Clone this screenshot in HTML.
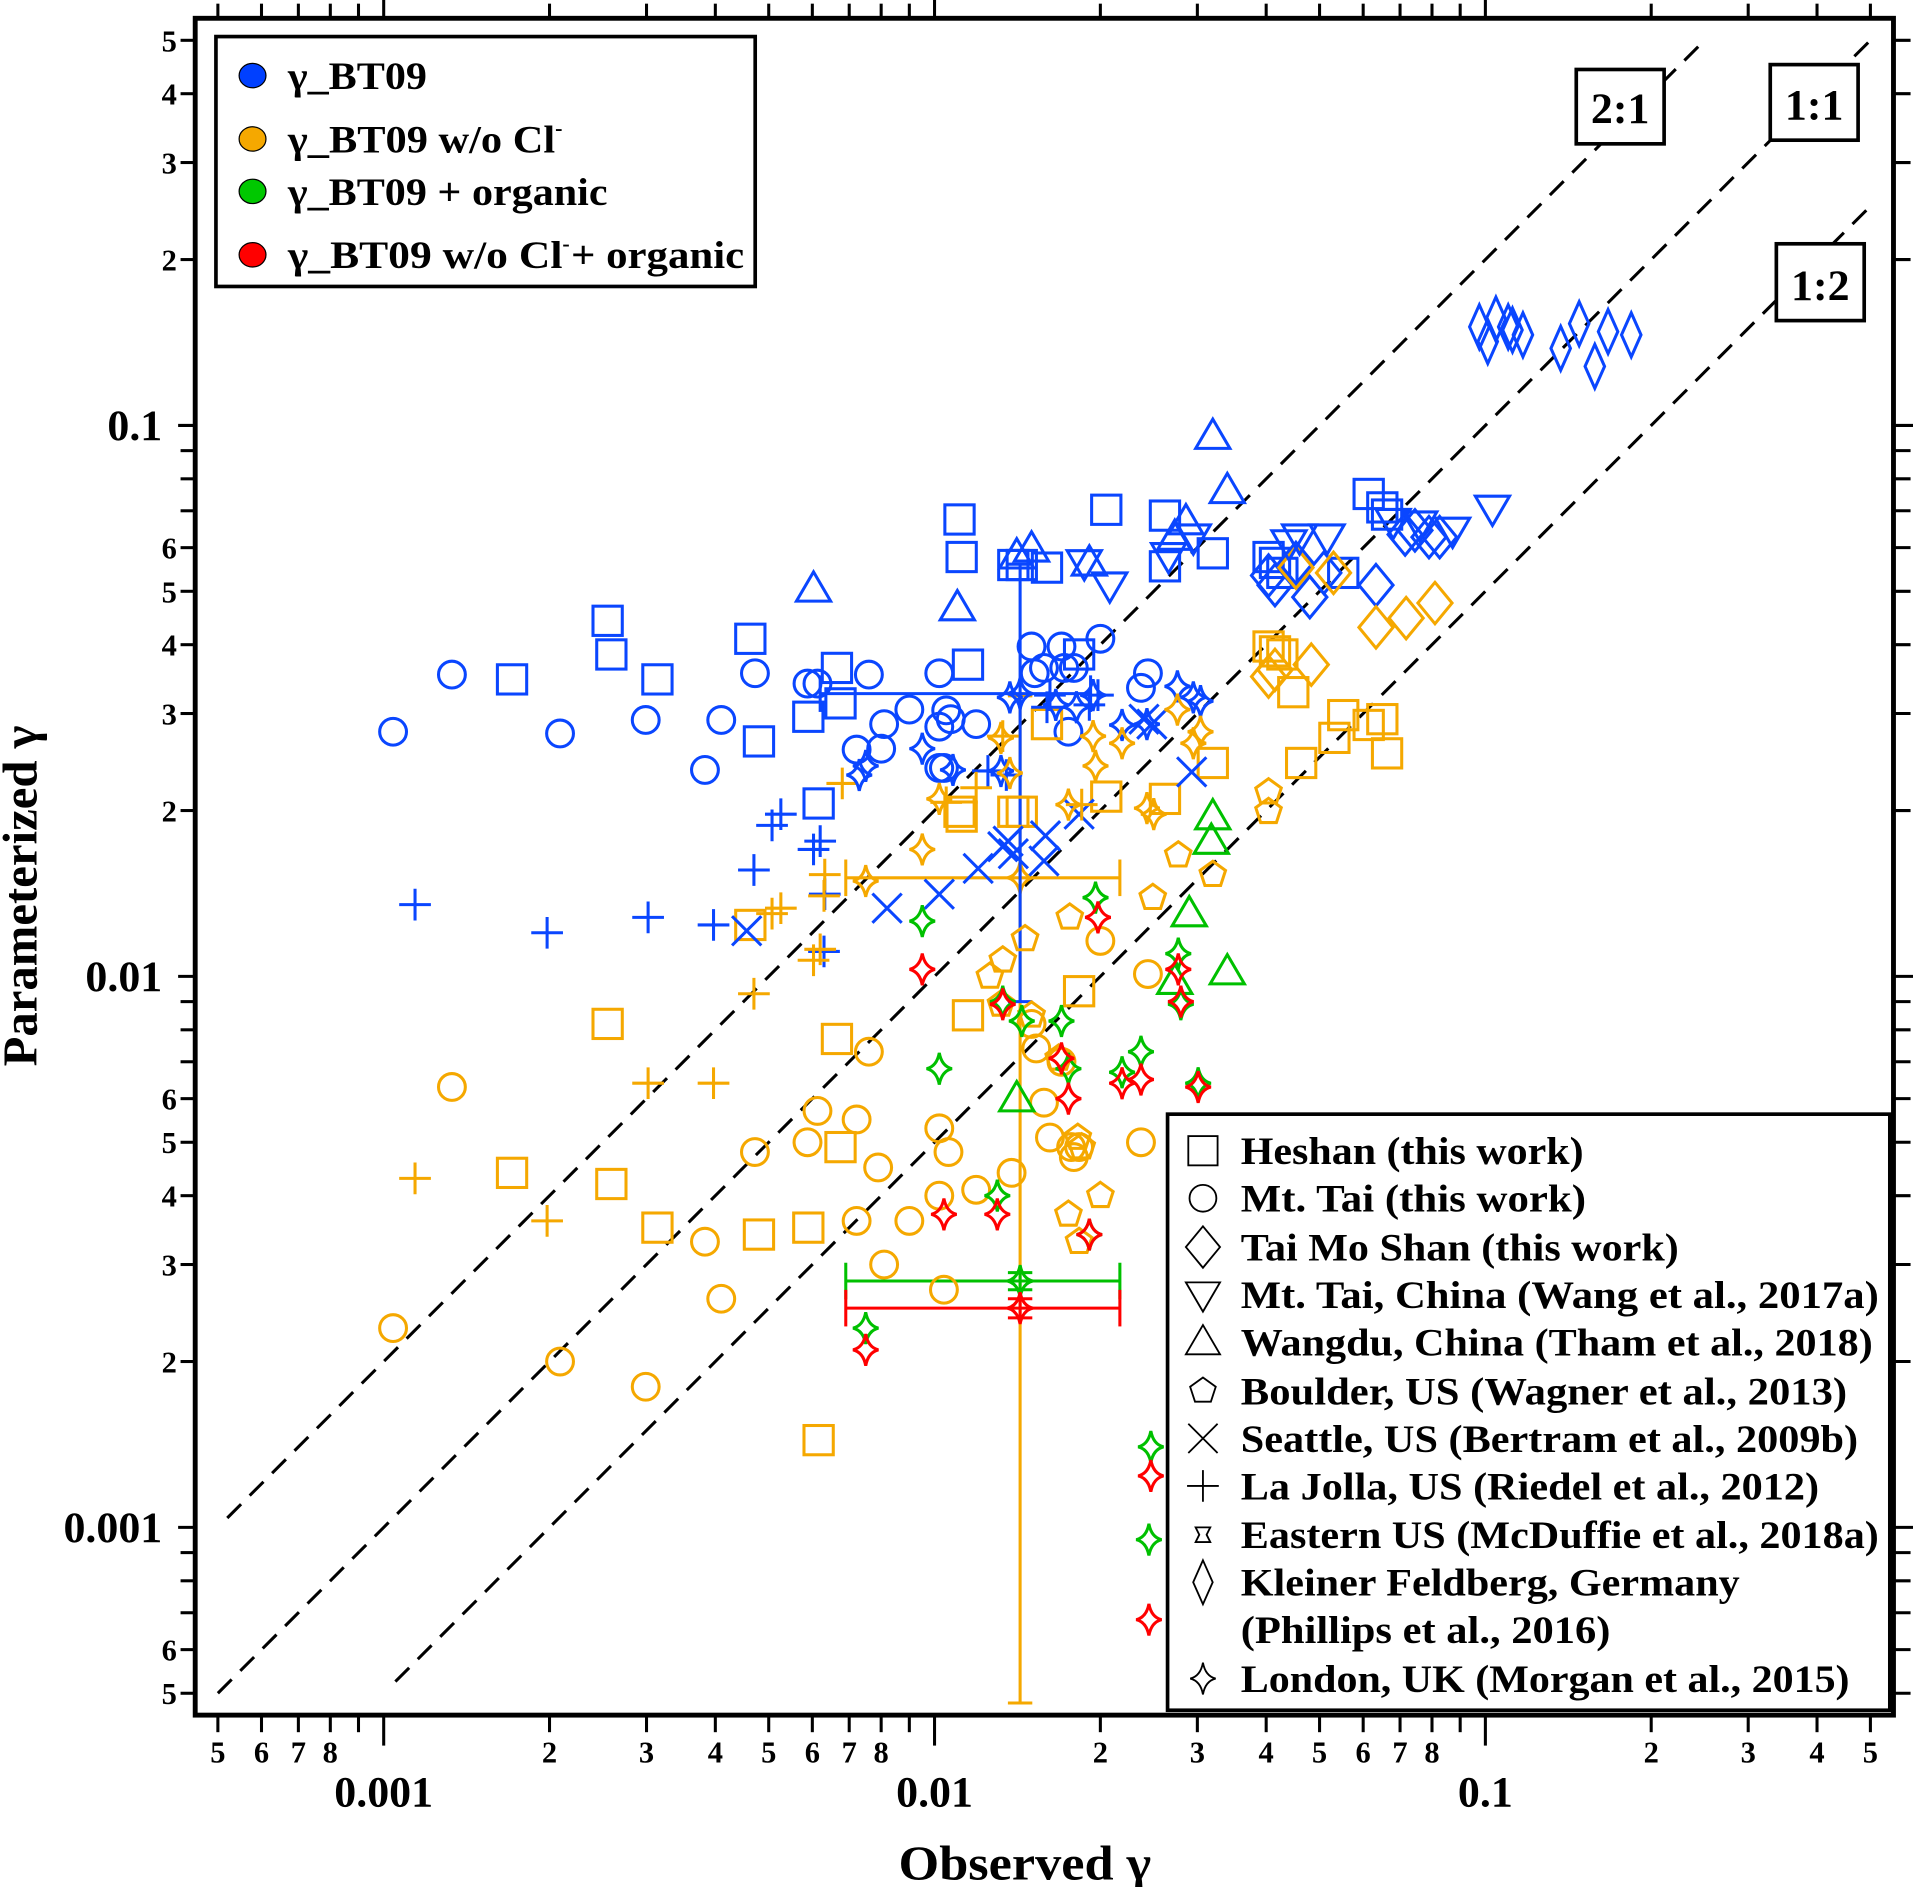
<!DOCTYPE html>
<html><head><meta charset="utf-8">
<style>
html,body{margin:0;padding:0;background:#fff;}
svg{display:block;}
text{font-family:"Liberation Serif",serif;font-weight:bold;fill:#000;}
</style></head>
<body>
<svg id="chart" width="1913" height="1887" viewBox="0 0 1568 1548" preserveAspectRatio="none" xmlns="http://www.w3.org/2000/svg">
<g id="grid-lines"></g>
<g id="marks"></g>
<g id="axes"></g>
<g id="ratio-labels">
  <rect x="1292" y="57" width="72" height="61" fill="#fff" stroke="#000" stroke-width="3"/>
  <text x="1328" y="101" font-size="36" text-anchor="middle">2:1</text>
  <rect x="1451" y="53" width="72" height="62" fill="#fff" stroke="#000" stroke-width="3"/>
  <text x="1487" y="98" font-size="36" text-anchor="middle">1:1</text>
  <rect x="1456" y="200" width="72" height="63" fill="#fff" stroke="#000" stroke-width="3"/>
  <text x="1492" y="246" font-size="36" text-anchor="middle">1:2</text>
</g>
<g id="legend-colors">
  <rect x="177" y="30" width="442" height="205" fill="#fff" stroke="#000" stroke-width="3"/>
  <ellipse cx="207" cy="62" rx="11" ry="10" fill="#0040ff" stroke="#000" stroke-width="1"/>
  <text x="236" y="73" font-size="32" textLength="114" lengthAdjust="spacingAndGlyphs">γ_BT09</text>
  <ellipse cx="207" cy="114" rx="11" ry="10" fill="#f5a800" stroke="#000" stroke-width="1"/>
  <text x="236" y="125" font-size="32"><tspan textLength="219" lengthAdjust="spacingAndGlyphs">γ_BT09 w/o Cl</tspan><tspan dy="-14" font-size="18">-</tspan></text>
  <ellipse cx="207" cy="157" rx="11" ry="10" fill="#00c800" stroke="#000" stroke-width="1"/>
  <text x="236" y="168" font-size="32" textLength="262" lengthAdjust="spacingAndGlyphs">γ_BT09 + organic</text>
  <ellipse cx="207" cy="209" rx="11" ry="10" fill="#ff0000" stroke="#000" stroke-width="1"/>
  <text x="236" y="220" font-size="32"><tspan textLength="225" lengthAdjust="spacingAndGlyphs">γ_BT09  w/o Cl</tspan><tspan dy="-14" font-size="18">-</tspan><tspan dy="14" x="468" textLength="142" lengthAdjust="spacingAndGlyphs">+ organic</tspan></text>
</g>
<g id="legend-sites">
  <rect x="957" y="914" width="592" height="489" fill="#fff" stroke="#000" stroke-width="3"/>
</g>
<text x="840" y="1542" font-size="40" text-anchor="middle" textLength="207" lengthAdjust="spacingAndGlyphs">Observed  γ</text>
<text transform="translate(30,735) rotate(-90)" font-size="40" text-anchor="middle">Parameterized  γ</text>
</svg>
<script>
// ---- data (observed γ, parameterized γ) ----
const circBlue=[[0.00104,0.0278],[0.00133,0.0353],[0.00209,0.0276],[0.00299,0.0292],[0.00383,0.0237],[0.0041,0.0292],[0.00472,0.0355],[0.00588,0.034],[0.00613,0.034],[0.00722,0.0258],[0.0076,0.0353],[0.008,0.0259],[0.0081,0.0287],[0.009,0.0305],[0.0102,0.0355],[0.0102,0.0284],[0.0105,0.0304],[0.0107,0.0293],[0.0119,0.0287],[0.015,0.0397],[0.0152,0.0355],[0.0158,0.0363],[0.017,0.0397],[0.0172,0.0363],[0.0175,0.0278],[0.0179,0.0363],[0.02,0.041],[0.0237,0.0334],[0.0244,0.0355],[0.0102,0.0239],[0.0104,0.0239]];
const circOrange=[[0.00104,0.0023],[0.00133,0.0063],[0.00209,0.002],[0.00299,0.0018],[0.00383,0.0033],[0.0041,0.0026],[0.00472,0.0048],[0.00588,0.005],[0.00613,0.0057],[0.00722,0.0055],[0.00722,0.0036],[0.0076,0.0073],[0.0079,0.0045],[0.0081,0.003],[0.009,0.0036],[0.0102,0.0053],[0.0106,0.0048],[0.0104,0.0027],[0.0102,0.004],[0.0119,0.0041],[0.0138,0.0044],[0.015,0.0082],[0.0153,0.0074],[0.0158,0.0059],[0.0162,0.0051],[0.017,0.007],[0.0177,0.0049],[0.0179,0.0047],[0.02,0.0116],[0.0237,0.005],[0.0244,0.0101],[0.0183,0.0049]];
const sqBlue=[[0.00171,0.0346],[0.00255,0.0442],[0.00259,0.0384],[0.00314,0.0346],[0.00463,0.041],[0.0048,0.0267],[0.0059,0.0296],[0.00616,0.0206],[0.00665,0.0363],[0.00675,0.0313],[0.0111,0.0675],[0.0112,0.0577],[0.0115,0.0368],[0.0139,0.0558],[0.0144,0.0558],[0.016,0.0552],[0.0183,0.0384],[0.0205,0.0703],[0.0262,0.0686],[0.0262,0.0555],[0.032,0.0586],[0.0614,0.0751],[0.065,0.071],[0.0663,0.0689],[0.0552,0.054],[0.0404,0.0577],[0.0415,0.0563],[0.0428,0.054]];
const sqOrange=[[0.00171,0.0044],[0.00255,0.0082],[0.00259,0.0042],[0.00314,0.0035],[0.00463,0.0124],[0.0048,0.0034],[0.0059,0.0035],[0.00616,0.00144],[0.00665,0.0077],[0.00675,0.0049],[0.0111,0.0199],[0.0112,0.0195],[0.0115,0.0085],[0.0139,0.0199],[0.0144,0.0199],[0.016,0.0287],[0.0183,0.0094],[0.0205,0.0212],[0.0262,0.021],[0.032,0.0244],[0.0614,0.0286],[0.065,0.0293],[0.0663,0.0254],[0.0552,0.0298],[0.0404,0.0397],[0.0415,0.0389],[0.0428,0.0384],[0.0448,0.0328],[0.0463,0.0244],[0.0532,0.0271]];
const diaBlue=[[0.0633,0.0513],[0.0453,0.0563],[0.0509,0.054],[0.0404,0.0534],[0.0415,0.0513],[0.048,0.0488],[0.0715,0.0634],[0.079,0.0627],[0.0826,0.0627],[0.0745,0.0645]];
const diaOrange=[[0.0633,0.043],[0.0718,0.0447],[0.081,0.0476],[0.0483,0.0368],[0.0453,0.0552],[0.0404,0.035],[0.053,0.054],[0.0415,0.036]];
const kfBlue=[[0.0975,0.151],[0.1045,0.156],[0.11,0.151],[0.117,0.146],[0.137,0.138],[0.148,0.153],[0.158,0.128],[0.167,0.148],[0.184,0.146],[0.101,0.142],[0.112,0.149]];
const tdBlue=[[0.103,0.0707],[0.0872,0.0645],[0.076,0.0662],[0.068,0.0669],[0.0516,0.0627],[0.046,0.0627],[0.044,0.0612],[0.0208,0.0513],[0.0187,0.0563],[0.0295,0.0627],[0.0266,0.058]];
const tuBlue=[[0.00603,0.0505],[0.011,0.0467],[0.0141,0.058],[0.015,0.0597],[0.0191,0.0563],[0.032,0.0956],[0.034,0.0762],[0.0273,0.0627],[0.0286,0.0669]];
const tuGreen=[[0.032,0.0195],[0.0318,0.0176],[0.029,0.013],[0.034,0.0102],[0.0273,0.0098],[0.0141,0.006]];
const xBlue=[[0.00456,0.0121],[0.0082,0.0133],[0.0102,0.0141],[0.012,0.0157],[0.0133,0.0172],[0.0136,0.0176],[0.0158,0.0162],[0.0159,0.018],[0.0183,0.0197],[0.024,0.0293],[0.0293,0.0235],[0.0248,0.0287],[0.0139,0.0167]];
const plusBlue=[[0.00114,0.0135],[0.00198,0.012],[0.00302,0.0128],[0.00397,0.0124],[0.0047,0.0156],[0.00507,0.0188],[0.00526,0.0197],[0.00603,0.017],[0.0062,0.0176],[0.00632,0.0141],[0.0063,0.0111],[0.0125,0.0236],[0.0135,0.0232],[0.016,0.0308],[0.0162,0.0324],[0.0191,0.0311],[0.0198,0.0324]];
const plusOrange=[[0.00114,0.0043],[0.00198,0.0036],[0.00302,0.0064],[0.00397,0.0064],[0.0047,0.0093],[0.00507,0.013],[0.00526,0.0133],[0.00603,0.0107],[0.0062,0.0112],[0.00632,0.0153],[0.0063,0.014],[0.0068,0.0224],[0.0119,0.022],[0.0105,0.0207],[0.0133,0.0273],[0.0185,0.0205]];
const starBlue=[[0.0075,0.0241],[0.0095,0.0259],[0.0108,0.0237],[0.0132,0.0236],[0.0137,0.0321],[0.0166,0.0311],[0.0181,0.0308],[0.0219,0.0286],[0.0243,0.0287],[0.0276,0.0336],[0.0295,0.0321],[0.0304,0.0316],[0.0194,0.0324],[0.0073,0.0232]];
const starOrange=[[0.0075,0.0149],[0.0095,0.017],[0.0102,0.021],[0.0132,0.0271],[0.0137,0.0234],[0.0175,0.0205],[0.0196,0.0241],[0.0219,0.0265],[0.0243,0.0202],[0.0276,0.0305],[0.0295,0.0265],[0.0304,0.0278],[0.0194,0.0273],[0.025,0.0197]];
const starGreen=[[0.0095,0.0126],[0.0102,0.0068],[0.013,0.004],[0.0133,0.009],[0.0144,0.0083],[0.017,0.0083],[0.0175,0.0068],[0.0196,0.0139],[0.0219,0.0067],[0.0237,0.0073],[0.0277,0.011],[0.0301,0.0064],[0.0191,0.0034],[0.0075,0.0023],[0.0247,0.0014],[0.0245,0.00095],[0.028,0.0089]];
const starRed=[[0.0095,0.0103],[0.0104,0.0037],[0.013,0.0037],[0.0133,0.0089],[0.0175,0.006],[0.0198,0.0128],[0.0219,0.0064],[0.0237,0.0065],[0.0277,0.0103],[0.0301,0.0063],[0.0191,0.0034],[0.0075,0.0021],[0.0247,0.00124],[0.0245,0.00068],[0.028,0.009],[0.017,0.0071]];
const pentOrange=[[0.0126,0.01],[0.0132,0.0089],[0.0146,0.0117],[0.0133,0.0107],[0.015,0.0085],[0.0168,0.0071],[0.0175,0.0037],[0.0183,0.0033],[0.02,0.004],[0.0249,0.0139],[0.0277,0.0166],[0.032,0.0153],[0.0404,0.0216],[0.0404,0.0199],[0.0176,0.0128],[0.0185,0.0049],[0.0182,0.0051]];
// error bars: [x, y, xlo, xhi, ylo, yhi]
const errBlue=[0.0143,0.0326,0.0062,0.0192,0.009,0.056];
const errOrange=[0.0143,0.0151,0.0069,0.0217,0.00048,0.0323];
const errGreen=[0.0143,0.0028,0.0069,0.0217,0.0027,0.0029];
const errRed=[0.0143,0.0025,0.0069,0.0217,0.0024,0.0026];
const xTickMinor=[0.0005,0.0006,0.0007,0.0008,0.0009,0.002,0.003,0.004,0.005,0.006,0.007,0.008,0.009,0.02,0.03,0.04,0.05,0.06,0.07,0.08,0.09,0.2,0.3,0.4,0.5];
const xMinorLabels=["5","6","7","8","","2","3","4","5","6","7","8","","2","3","4","5","6","7","8","","2","3","4","5"];
const majorTicks=[0.001,0.01,0.1];
const majorLabels=["0.001","0.01","0.1"];
const yTickMinor=[0.0005,0.0006,0.0007,0.0008,0.0009,0.002,0.003,0.004,0.005,0.006,0.007,0.008,0.009,0.02,0.03,0.04,0.05,0.06,0.07,0.08,0.09,0.2,0.3,0.4,0.5];
const yMinorLabels=["5","6","","","","2","3","4","5","6","","","","2","3","4","5","6","","","","2","3","4","5"];
const ratios=[2,1,0.5];

// ---- scales ----
const X=v=>766+451.5*Math.log10(v/0.01);
const Y=v=>801-452*Math.log10(v/0.01);
const NS="http://www.w3.org/2000/svg";
function mk(tag,attrs,parent){const e=document.createElementNS(NS,tag);for(const k in attrs)e.setAttribute(k,attrs[k]);parent.appendChild(e);return e;}
const BLUE="#0a46ff",ORANGE="#f5a800",GREEN="#00c000",RED="#ff0000";

const gl=document.getElementById('grid-lines');
const ratioRanges=[[0.00052,0.25],[0.0005,0.5],[0.00105,0.5]];
ratios.forEach((r,i)=>{
  const [a,b]=ratioRanges[i];
  const l=mk('line',{x1:X(a),y1:Y(a*r),x2:X(b),y2:Y(b*r),stroke:'#000','stroke-width':2.5,'stroke-dasharray':'16,10'},gl);
  
  
});

function shape(type,cx,cy,color,parent,sw){
  sw=sw||2.5;
  const base={fill:'none',stroke:color,'stroke-width':sw};
  let e;
  if(type==='circle') e=mk('circle',Object.assign({cx,cy,r:11},base),parent);
  else if(type==='square') e=mk('rect',Object.assign({x:cx-12,y:cy-12,width:24,height:24},base),parent);
  else if(type==='diamond') e=mk('polygon',Object.assign({points:`${cx},${cy-17} ${cx+14},${cy} ${cx},${cy+17} ${cx-14},${cy}`},base),parent);
  else if(type==='kf') e=mk('polygon',Object.assign({points:`${cx},${cy-18} ${cx+8},${cy} ${cx},${cy+18} ${cx-8},${cy}`},base),parent);
  else if(type==='tdown') e=mk('polygon',Object.assign({points:`${cx-14},${cy-10} ${cx+14},${cy-10} ${cx},${cy+14}`},base),parent);
  else if(type==='tup') e=mk('polygon',Object.assign({points:`${cx-14},${cy+10} ${cx+14},${cy+10} ${cx},${cy-14}`},base),parent);
  else if(type==='x') e=mk('path',Object.assign({d:`M${cx-12},${cy-12}L${cx+12},${cy+12}M${cx-12},${cy+12}L${cx+12},${cy-12}`},base),parent);
  else if(type==='plus') e=mk('path',Object.assign({d:`M${cx-13},${cy}L${cx+13},${cy}M${cx},${cy-13}L${cx},${cy+13}`},base),parent);
  else if(type==='star'){
    const o=13,w=o*0.8;
    e=mk('path',Object.assign({d:`M${cx},${cy-o}Q${cx+2},${cy-2} ${cx+w},${cy}Q${cx+2},${cy+2} ${cx},${cy+o}Q${cx-2},${cy+2} ${cx-w},${cy}Q${cx-2},${cy-2} ${cx},${cy-o}Z`},base),parent);
  }
  else if(type==='pent'){
    let p=[];for(let k=0;k<5;k++){const a=-Math.PI/2+k*2*Math.PI/5;p.push((cx+11*Math.cos(a)).toFixed(1)+','+(cy+11*Math.sin(a)).toFixed(1));}
    e=mk('polygon',Object.assign({points:p.join(' ')},base),parent);
  }
  else if(type==='eus'){
    e=mk('path',Object.assign({d:`M${cx-6},${cy-6}L${cx+6},${cy-6}L${cx+3},${cy}L${cx+6},${cy+6}L${cx-6},${cy+6}L${cx-3},${cy}Z`},base),parent);
  }
  return e;
}
const marks=document.getElementById('marks');
function errbar(arr,color,name){
  const g=mk('g',{},marks);
  
  
  const [x,y,xl,xh,yl,yh]=arr;
  mk('line',{x1:X(xl),y1:Y(y),x2:X(xh),y2:Y(y),stroke:color,'stroke-width':2.5},g);
  mk('line',{x1:X(xl),y1:Y(y)-15,x2:X(xl),y2:Y(y)+15,stroke:color,'stroke-width':2.5},g);
  mk('line',{x1:X(xh),y1:Y(y)-15,x2:X(xh),y2:Y(y)+15,stroke:color,'stroke-width':2.5},g);
  mk('line',{x1:X(x),y1:Y(yl),x2:X(x),y2:Y(yh),stroke:color,'stroke-width':2.5},g);
  mk('line',{x1:X(x)-10,y1:Y(yl),x2:X(x)+10,y2:Y(yl),stroke:color,'stroke-width':2.5},g);
  mk('line',{x1:X(x)-10,y1:Y(yh),x2:X(x)+10,y2:Y(yh),stroke:color,'stroke-width':2.5},g);
  shape('star',X(x),Y(y),color,g);
}
errbar(errOrange,ORANGE,'error-bar-orange');
errbar(errBlue,BLUE,'error-bar-blue');
errbar(errGreen,GREEN,'error-bar-green');
errbar(errRed,RED,'error-bar-red');

const series=[
 [circBlue,'circle',BLUE,'mt-tai-bt09'],[circOrange,'circle',ORANGE,'mt-tai-no-cl'],
 [sqBlue,'square',BLUE,'heshan-bt09'],[sqOrange,'square',ORANGE,'heshan-no-cl'],
 [diaBlue,'diamond',BLUE,'tai-mo-shan-bt09'],[diaOrange,'diamond',ORANGE,'tai-mo-shan-no-cl'],
 [kfBlue,'kf',BLUE,'kleiner-feldberg-bt09'],
 [tdBlue,'tdown',BLUE,'mt-tai-wang-bt09'],[tuBlue,'tup',BLUE,'wangdu-bt09'],[tuGreen,'tup',GREEN,'wangdu-organic'],
 [xBlue,'x',BLUE,'seattle-bt09'],[plusBlue,'plus',BLUE,'la-jolla-bt09'],[plusOrange,'plus',ORANGE,'la-jolla-no-cl'],
 [pentOrange,'pent',ORANGE,'boulder-no-cl'],
 [starBlue,'star',BLUE,'london-bt09'],[starOrange,'star',ORANGE,'london-no-cl'],[starGreen,'star',GREEN,'london-organic'],[starRed,'star',RED,'london-no-cl-organic']
];
series.forEach(([data,type,color,name])=>{
  const g=mk('g',{},marks);
  
  
  data.forEach(([o,p])=>{
    const e=shape(type,X(o),Y(p),color,g);
    
    
  });
});

const ax=document.getElementById('axes');
mk('rect',{x:160,y:15,width:1392,height:1392,fill:'none',stroke:'#000','stroke-width':4},ax);
xTickMinor.forEach((v,i)=>{
  const x=X(v);
  mk('line',{x1:x,y1:1407,x2:x,y2:1421,stroke:'#000','stroke-width':2.5},ax);
  mk('line',{x1:x,y1:15,x2:x,y2:3,stroke:'#000','stroke-width':2.5},ax);
  if(xMinorLabels[i]){const t=mk('text',{x:x,y:1446,'font-size':25,'text-anchor':'middle'},ax);t.textContent=xMinorLabels[i];
    
    }
});
yTickMinor.forEach((v,i)=>{
  const y=Y(v);
  mk('line',{x1:160,y1:y,x2:148,y2:y,stroke:'#000','stroke-width':2.5},ax);
  mk('line',{x1:1552,y1:y,x2:1566,y2:y,stroke:'#000','stroke-width':2.5},ax);
  if(yMinorLabels[i]){const t=mk('text',{x:145,y:y+9,'font-size':25,'text-anchor':'end'},ax);t.textContent=yMinorLabels[i];
    
    }
});
majorTicks.forEach((v,i)=>{
  const x=X(v),y=Y(v);
  mk('line',{x1:x,y1:1407,x2:x,y2:1432,stroke:'#000','stroke-width':2.5},ax);
  mk('line',{x1:x,y1:15,x2:x,y2:0,stroke:'#000','stroke-width':2.5},ax);
  mk('line',{x1:160,y1:y,x2:146,y2:y,stroke:'#000','stroke-width':2.5},ax);
  mk('line',{x1:1552,y1:y,x2:1568,y2:y,stroke:'#000','stroke-width':2.5},ax);
  const t=mk('text',{x:x,y:1482,'font-size':36,'text-anchor':'middle'},ax);t.textContent=majorLabels[i];
  
  
  const t2=mk('text',{x:133,y:y+12,'font-size':36,'text-anchor':'end'},ax);t2.textContent=majorLabels[i];
  
  
});

const lg=document.getElementById('legend-sites');
const legTypes=['square','circle','diamond','tdown','tup','pent','x','plus','eus','kf','star'];
const legText=['Heshan (this work)','Mt. Tai (this work)','Tai Mo Shan (this work)','Mt. Tai, China (Wang et al., 2017a)','Wangdu, China (Tham et al., 2018)','Boulder, US (Wagner et al., 2013)','Seattle, US (Bertram et al., 2009b)','La Jolla, US (Riedel et al., 2012)','Eastern US (McDuffie et al., 2018a)','Kleiner Feldberg, Germany','London, UK (Morgan et al., 2015)'];
const legLen=[281,283,359,523,518,497,506,474,523,409,499];
const legY=[944,983,1023,1062,1101,1141,1180,1219,1259,1298,1377];
legTypes.forEach((tp,i)=>{
  const e=shape(tp,986,legY[i],'#000',lg,1.5);
  
  
  const t=mk('text',{x:1017,y:legY[i]+11,'font-size':32,textLength:legLen[i],lengthAdjust:'spacingAndGlyphs'},lg);t.textContent=legText[i];
  
  
});
const t=mk('text',{x:1017,y:1348,'font-size':32,textLength:303,lengthAdjust:'spacingAndGlyphs'},lg);t.textContent='(Phillips et al., 2016)';


</script>
</body></html>
